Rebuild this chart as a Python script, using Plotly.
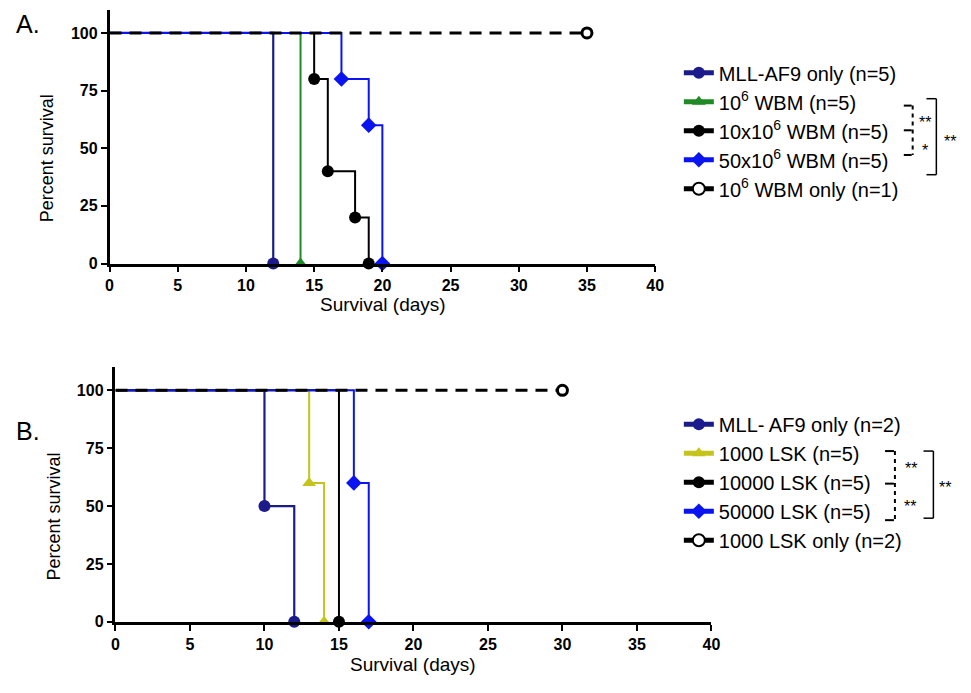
import plotly.graph_objects as go

W, H = 971, 693

# ---------------- data ----------------
# Panel A (days, percent survival)
a_mll_days = [0, 12]
a_mll_surv = [100, 0]
a_wbm1_days = [0, 14]
a_wbm1_surv = [100, 0]
a_wbm10_days = [0, 15, 16, 18, 19]
a_wbm10_surv = [100, 80, 40, 20, 0]
a_wbm50_days = [0, 17, 19, 20]
a_wbm50_surv = [100, 80, 60, 0]
a_only_days = [0, 35]
a_only_surv = [100, 100]

# Panel B
b_mll_days = [0, 10, 12]
b_mll_surv = [100, 50, 0]
b_lsk1_days = [0, 13, 14]
b_lsk1_surv = [100, 60, 0]
b_lsk10_days = [0, 15]
b_lsk10_surv = [100, 0]
b_lsk50_days = [0, 16, 17]
b_lsk50_surv = [100, 60, 0]
b_only_days = [0, 30]
b_only_surv = [100, 100]

a_names = ["MLL-AF9 only (n=5)", "10<sup>6</sup> WBM (n=5)", "10x10<sup>6</sup> WBM (n=5)",
           "50x10<sup>6</sup> WBM (n=5)", "10<sup>6</sup> WBM only (n=1)"]
b_names = ["MLL- AF9 only (n=2)", "1000 LSK (n=5)", "10000 LSK (n=5)",
           "50000 LSK (n=5)", "1000 LSK only (n=2)"]

x_ticks = [0, 5, 10, 15, 20, 25, 30, 35, 40]
y_ticks = [0, 25, 50, 75, 100]

NAVY = "#1b1b8c"
GREEN = "#1f8a26"
BLACK = "#000000"
BLUE = "#0a14f0"
YELLOW = "#c4c41c"
FONT = "Liberation Sans, Arial, sans-serif"

fig = go.Figure()


def px_x(p):
    return p / W


def px_y(p):
    return 1 - p / H


def add_series(days, surv, name, color, symbol, size, xa, ya, leg, width=2):
    sizes = [0] + [size] * (len(days) - 1)
    fig.add_trace(go.Scatter(
        x=days, y=surv, name=name, mode="lines+markers",
        line=dict(color=color, width=width, shape="hv"),
        marker=dict(symbol=symbol, size=sizes, color=color, opacity=1, line=dict(width=0)),
        xaxis=xa, yaxis=ya, legend=leg, cliponaxis=False))


def add_only(days, surv, name, xa, ya, leg):
    # legend entry (solid line with open circle)
    fig.add_trace(go.Scatter(
        x=[None], y=[None], name=name, mode="lines+markers",
        line=dict(color=BLACK, width=2.5),
        marker=dict(symbol="circle", size=9, color="white", opacity=1,
                    line=dict(color=BLACK, width=2.5)),
        xaxis=xa, yaxis=ya, legend=leg))
    sizes = [0] + [10] * (len(days) - 1)
    fig.add_trace(go.Scatter(
        x=days, y=surv, name=name, mode="lines+markers", showlegend=False,
        line=dict(color=BLACK, width=3, dash="12px,8px"),
        marker=dict(symbol="circle", size=sizes, color="white", opacity=1,
                    line=dict(color=BLACK, width=3)),
        xaxis=xa, yaxis=ya, legend=leg, cliponaxis=False))


# Panel A
add_series(a_mll_days, a_mll_surv, a_names[0], NAVY, "circle", 12, "x", "y", "legend", 2.2)
add_series(a_wbm1_days, a_wbm1_surv, a_names[1], GREEN, "triangle-up", 12, "x", "y", "legend")
add_series(a_wbm10_days, a_wbm10_surv, a_names[2], BLACK, "circle", 12, "x", "y", "legend")
add_series(a_wbm50_days, a_wbm50_surv, a_names[3], BLUE, "diamond", 12, "x", "y", "legend")
add_only(a_only_days, a_only_surv, a_names[4], "x", "y", "legend")

# Panel B
add_series(b_mll_days, b_mll_surv, b_names[0], NAVY, "circle", 12, "x2", "y2", "legend2", 2.2)
add_series(b_lsk1_days, b_lsk1_surv, b_names[1], YELLOW, "triangle-up", 12, "x2", "y2", "legend2")
add_series(b_lsk10_days, b_lsk10_surv, b_names[2], BLACK, "circle", 12, "x2", "y2", "legend2")
add_series(b_lsk50_days, b_lsk50_surv, b_names[3], BLUE, "diamond", 12, "x2", "y2", "legend2")
add_only(b_only_days, b_only_surv, b_names[4], "x2", "y2", "legend2")

axis_common = dict(showline=True, linewidth=2.5, linecolor=BLACK, ticks="outside",
                   tickwidth=2, ticklen=6, tickcolor=BLACK, showgrid=False, zeroline=False,
                   tickfont=dict(family=FONT, size=16, color=BLACK, weight="bold"))

# panel A plot box (pixels): x 107..660, y 10..267 ; panel B: x 113..717, y 372..630
fig.update_layout(
    width=W, height=H, margin=dict(l=0, r=0, t=0, b=0),
    paper_bgcolor="white", plot_bgcolor="white",
    xaxis=dict(domain=[px_x(107), px_x(660)], range=[0, 40], tickvals=x_ticks, anchor="y", **axis_common),
    yaxis=dict(domain=[px_y(267), px_y(10)], range=[0, 110], tickvals=y_ticks, anchor="x", **axis_common),
    xaxis2=dict(domain=[px_x(113), px_x(717)], range=[0, 40], tickvals=x_ticks, anchor="y2", **axis_common),
    yaxis2=dict(domain=[px_y(630), px_y(372)], range=[0, 110], tickvals=y_ticks, anchor="x2", **axis_common),
    legend=dict(x=px_x(684), y=px_y(54), xanchor="left", yanchor="top", itemsizing="constant",
                font=dict(family=FONT, size=20, color=BLACK), bgcolor="rgba(0,0,0,0)", tracegroupgap=0),
    legend2=dict(x=px_x(684), y=px_y(410), xanchor="left", yanchor="top", itemsizing="constant",
                 font=dict(family=FONT, size=20, color=BLACK), bgcolor="rgba(0,0,0,0)", tracegroupgap=0),
)

ann = []


def text(x, y, s, size, angle=0, xanchor="center"):
    ann.append(dict(x=px_x(x), y=px_y(y), xref="paper", yref="paper", text=s, showarrow=False,
                    textangle=angle, xanchor=xanchor, yanchor="middle",
                    font=dict(family=FONT, size=size, color=BLACK)))


text(24, 24, "A.", 25)
text(24, 437, "B.", 25)
text(43, 160, "Percent survival", 18, -90)
text(51, 523, "Percent survival", 18, -90)
text(384, 309, "Survival (days)", 19)
text(415, 673, "Survival (days)", 19)

# significance marks
text(934, 124, "**", 16)
text(933, 152, "*", 16)
text(959, 143, "**", 16)
text(919, 475, "**", 16)
text(918, 513, "**", 16)
text(954, 494, "**", 16)
fig.update_layout(annotations=ann)

shapes = []


def seg(x0, y0, x1, y1, dash="solid", w=1.5):
    shapes.append(dict(type="line", xref="paper", yref="paper", x0=px_x(x0), y0=px_y(y0),
                       x1=px_x(x1), y1=px_y(y1), line=dict(color=BLACK, width=w, dash=dash)))


# Panel A brackets
for yy in (107, 132, 157):
    seg(912, yy, 920, yy, w=2)
seg(921, 107, 921, 157, dash="4px,4px", w=2)
seg(935, 100, 945, 100)
seg(945, 100, 945, 177)
seg(935, 177, 945, 177)
# Panel B brackets
for yy in (457, 490, 527):
    seg(893, yy, 902, yy, w=2)
seg(903, 457, 903, 527, dash="4px,4px", w=2)
seg(932, 457, 942, 457)
seg(942, 457, 942, 525)
seg(932, 525, 942, 525)
fig.update_layout(shapes=shapes)

fig.write_html("out.html", config={"displayModeBar": False},
               post_script="document.body.style.margin='0';document.body.style.overflow='hidden';")
